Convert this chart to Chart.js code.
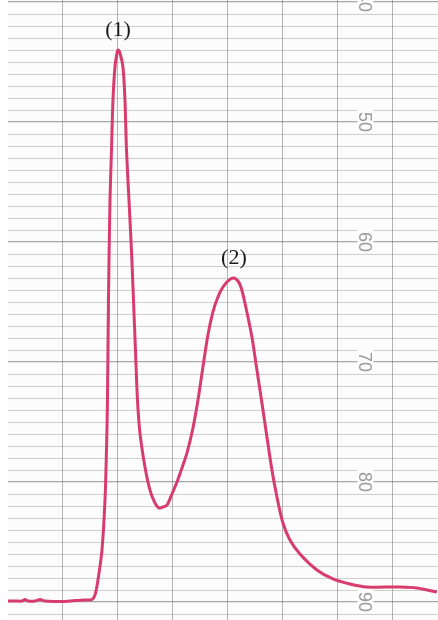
<!DOCTYPE html>
<html>
<head>
<meta charset="utf-8">
<script src="https://cdn.jsdelivr.net/npm/chart.js@4.4.0/dist/chart.umd.min.js"></script>
<style>
  html, body { margin: 0; padding: 0; background: #ffffff; }
  #wrap { width: 438px; height: 620px; position: relative; }
</style>
</head>
<body>
<div id="wrap"><canvas id="trace"></canvas></div>
<script>
// recorder trace (x = chart divisions, y = paper scale)
var timeValues = [0, 0.127, 0.255, 0.309, 0.364, 0.491, 0.582, 0.673, 0.855, 1.036, 1.218, 1.4, 1.527,
    1.582, 1.636, 1.709, 1.764, 1.791, 1.809, 1.827, 1.855, 1.882, 1.909, 1.945, 1.982, 2.0,
    2.036, 2.091, 2.127, 2.155, 2.2, 2.245, 2.282, 2.318, 2.355, 2.4, 2.491, 2.582, 2.673, 2.745,
    2.818, 2.891, 2.982, 3.073, 3.164, 3.255, 3.364, 3.455, 3.545, 3.636, 3.727, 3.818, 3.909, 4.018, 4.109,
    4.182, 4.236, 4.309, 4.436, 4.527, 4.618, 4.709, 4.8, 4.891, 5.0, 5.127, 5.309, 5.618,
    5.909, 6.218, 6.527, 7.127, 7.436, 7.8];
var signalValues = [89.92, 89.92, 89.92, 89.79, 89.92, 89.92, 89.79, 89.92, 89.96, 89.96, 89.88, 89.83, 89.79,
    89.42, 88.17, 85.67, 81.5, 77.33, 73.17, 64.83, 56.5, 52.33, 48.17, 45.42, 44.25, 44.0,
    44.25, 45.42, 48.17, 52.33, 56.5, 60.67, 64.83, 69.0, 73.17, 75.92, 78.75, 80.67, 81.75, 82.17,
    82.08, 81.92, 81.0, 80.0, 78.83, 77.58, 75.5, 73.17, 70.42, 67.75, 65.83, 64.58, 63.75, 63.17, 63.0,
    63.25, 63.75, 65.08, 67.92, 70.67, 73.42, 76.25, 79.0, 81.25, 83.42, 84.83, 86.0, 87.33,
    88.08, 88.5, 88.75, 88.75, 88.83, 89.17];

var peakLabels = ['(1)', '(2)'];
var peakIndex = [25, 54];

var scaleLabels = ['40', '50', '60', '70', '80', '90'];
var scaleValues = [40, 50, 60, 70, 80, 90];
var labelColumn = 6.5;   // paper column where the scale numbers are printed

var verticalLines = [1, 2, 3, 4, 5, 6, 7];
var horizontalLines = [];
for (var v = 40; v <= 91; v++) horizontalLines.push(v);

var points = timeValues.map(function (t, i) { return { x: t, y: signalValues[i] }; });

var paperText = {
    id: 'paperText',
    afterDatasetsDraw: function (chart) {
        var ctx = chart.ctx;
        var xs = chart.scales.x, ys = chart.scales.y;
        ctx.save();
        // scale numbers, printed sideways on the paper
        ctx.font = '300 18px "Liberation Sans", Arial, sans-serif';
        ctx.textAlign = 'center';
        ctx.textBaseline = 'middle';
        scaleLabels.forEach(function (txt, i) {
            var px = xs.getPixelForValue(labelColumn);
            var py = ys.getPixelForValue(scaleValues[i]);
            ctx.save();
            ctx.translate(px, py);
            ctx.rotate(Math.PI / 2);
            ctx.fillStyle = '#fbfcfb';
            ctx.fillRect(-12, -8, 24, 16);
            ctx.fillStyle = '#9a9a9a';
            ctx.fillText(txt, 0, 1);
            ctx.restore();
        });
        // peak names
        ctx.font = '22px "Liberation Serif", "Times New Roman", serif';
        ctx.fillStyle = '#1a1a1a';
        ctx.textBaseline = 'alphabetic';
        peakLabels.forEach(function (txt, i) {
            var k = peakIndex[i];
            var px = xs.getPixelForValue(timeValues[k]);
            var py = ys.getPixelForValue(signalValues[k]);
            ctx.fillText(txt, px, py - 14);
        });
        ctx.restore();
    }
};

var paperBg = {
    id: 'paperBg',
    beforeDraw: function (chart) {
        var a = chart.chartArea;
        chart.ctx.save();
        chart.ctx.fillStyle = '#fbfcfb';
        chart.ctx.fillRect(a.left, a.top, a.right - a.left, a.bottom - a.top);
        chart.ctx.restore();
    }
};

new Chart(document.getElementById('trace'), {
    type: 'line',
    data: {
        datasets: [{
            data: points,
            borderColor: 'rgb(216, 60, 110)',
            borderWidth: 3,
            pointRadius: 0,
            fill: false,
            tension: 0.3
        }]
    },
    options: {
        responsive: true,
        maintainAspectRatio: false,
        animation: false,
        layout: { padding: { left: 8, top: 0, right: 0, bottom: 0 } },
        plugins: { legend: { display: false }, tooltip: { enabled: false } },
        scales: {
            x: {
                type: 'linear',
                min: 0,
                max: 7.82,
                afterBuildTicks: function (scale) {
                    scale.ticks = verticalLines.map(function (v) { return { value: v }; });
                },
                ticks: { display: false },
                border: { display: false },
                grid: { color: 'rgba(120,120,120,0.55)', lineWidth: 1, drawTicks: false }
            },
            y: {
                type: 'linear',
                reverse: true,
                min: 39.83,
                max: 91.5,
                afterBuildTicks: function (scale) {
                    scale.ticks = horizontalLines.map(function (v) { return { value: v }; });
                },
                ticks: { display: false },
                border: { display: false },
                grid: {
                    drawTicks: false,
                    color: function (c) {
                        return c.tick && c.tick.value % 10 === 0 ? 'rgba(110,110,110,0.6)' : 'rgba(150,150,150,0.45)';
                    },
                    lineWidth: function (c) {
                        return c.tick && c.tick.value % 10 === 0 ? 1.3 : 1;
                    }
                }
            }
        }
    },
    plugins: [paperBg, paperText]
});
</script>
</body>
</html>
